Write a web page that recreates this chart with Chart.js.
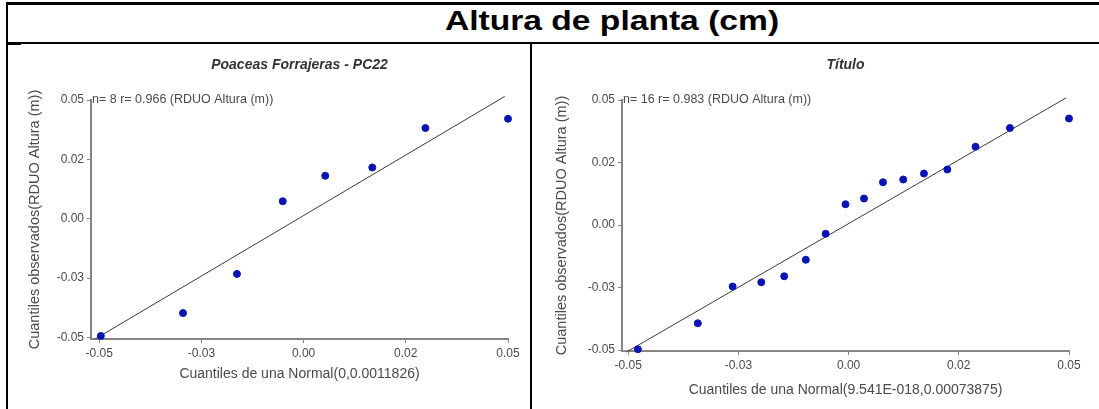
<!DOCTYPE html>
<html><head><meta charset="utf-8">
<script src="https://cdn.jsdelivr.net/npm/chart.js@4.4.0/dist/chart.umd.min.js"></script>
<style>
html,body{margin:0;padding:0;background:#fff;width:1099px;height:409px;overflow:hidden;position:relative}
.b{position:absolute;background:#000}
#title{position:absolute;left:8px;width:1208px;top:5px;height:38px;line-height:38px;text-align:center;font:bold 28px Arial,"Liberation Sans",sans-serif;color:#000;white-space:nowrap;transform:scaleX(1.2);transform-origin:50% 50%}
#c1{position:absolute;left:8px;top:44px}
#c2{position:absolute;left:532px;top:44px}
</style></head>
<body>
<div class="b" style="left:6px;top:2px;width:1093px;height:3px"></div>
<div class="b" style="left:6px;top:2px;width:2px;height:407px"></div>
<div class="b" style="left:6px;top:42px;width:1093px;height:2px"></div>
<div class="b" style="left:8px;top:42px;width:13px;height:3px"></div>
<div class="b" style="left:530px;top:43px;width:2px;height:366px"></div>
<div id="title">Altura de planta (cm)</div>
<canvas id="c1" width="522" height="365"></canvas>
<canvas id="c2" width="567" height="365"></canvas>
<script>
// ---- data ----
const tickValues = [-0.05, -0.025, 0, 0.025, 0.05];
const tickLabels = ['-0.05', '-0.03', '0.00', '0.02', '0.05'];

const leftTitle = 'Poaceas Forrajeras - PC22';
const leftAnnot = 'n= 8 r= 0.966 (RDUO Altura (m))';
const leftXTitle = 'Cuantiles de una Normal(0,0.0011826)';
const leftYTitle = 'Cuantiles observados(RDUO Altura (m))';
const leftX = [-0.0496, -0.0295, -0.0163, -0.0051, 0.0053, 0.0168, 0.0298, 0.0500];
const leftY = [-0.0493, -0.0397, -0.0232, 0.0074, 0.0181, 0.0216, 0.0382, 0.0421];
const leftLineX = [-0.0510, 0.0492];
const leftLineY = [-0.0506, 0.0515];

const rightTitle = 'Título';
const rightAnnot = 'n= 16 r= 0.983 (RDUO Altura (m))';
const rightXTitle = 'Cuantiles de una Normal(9.541E-018,0.00073875)';
const rightYTitle = 'Cuantiles observados(RDUO Altura (m))';
const rightX = [-0.0478, -0.0342, -0.0263, -0.0198, -0.0146, -0.0097, -0.0052, -0.0007, 0.0035, 0.0078, 0.0124, 0.0171, 0.0224, 0.0288, 0.0366, 0.0500];
const rightY = [-0.0497, -0.0393, -0.0246, -0.0229, -0.0205, -0.0139, -0.0035, 0.0083, 0.0106, 0.0171, 0.0182, 0.0206, 0.0222, 0.0313, 0.0388, 0.0426];
const rightLineX = [-0.0503, 0.0494];
const rightLineY = [-0.0507, 0.0509];

// ---- rendering ----
const FONT = 'Arial, "Liberation Sans", sans-serif';
const TXT = '#4a4a4a';
const AXIS = '#858585';

const annotPlugin = {
  id: 'annot',
  afterDraw(chart, args, opts) {
    const {ctx, chartArea, scales} = chart;
    ctx.save();
    ctx.font = '12.5px ' + FONT;
    ctx.fillStyle = TXT;
    ctx.textAlign = 'left';
    ctx.textBaseline = 'middle';
    ctx.fillText(opts.text, chartArea.left + opts.dx, scales.y.getPixelForValue(0.05));
    ctx.restore();
  }
};

function pts(xs, ys) { return xs.map((x, i) => ({x: x, y: ys[i]})); }

function makeChart(id, c) {
  return new Chart(document.getElementById(id), {
    type: 'scatter',
    data: {
      datasets: [
        {data: pts(c.lineX, c.lineY), showLine: true, borderColor: '#3a3a3a', borderWidth: 1, pointRadius: 0, clip: false, order: 2},
        {data: pts(c.x, c.y), backgroundColor: '#0a14b4', borderColor: '#0a14b4', pointRadius: 3.5, pointHoverRadius: 3.5, clip: false, order: 1}
      ]
    },
    plugins: [annotPlugin],
    options: {
      responsive: false,
      animation: false,
      events: [],
      layout: {padding: {left: 0, top: 0, right: c.padRight, bottom: 0}},
      plugins: {
        legend: {display: false},
        tooltip: {enabled: false},
        title: {display: true, text: c.title, fullSize: false, color: '#333',
          font: {family: FONT, size: 14, weight: 'bold', style: 'italic', lineHeight: 1.2},
          padding: {top: 12.6, bottom: 26.6}},
        annot: {text: c.annot, dx: 1}
      },
      scales: {
        x: {
          type: 'linear', min: c.xMin, max: 0.05,
          afterBuildTicks: s => { s.ticks = tickValues.map(v => ({value: v})); },
          afterFit: s => { s.height = c.xAxisH; },
          ticks: {callback: (v, i) => tickLabels[i], color: TXT, font: {family: FONT, size: 12}, padding: 3, maxRotation: 0, autoSkip: false},
          grid: {drawOnChartArea: false, drawTicks: true, tickLength: 4, color: AXIS, lineWidth: 1},
          border: {display: true, color: AXIS, width: 2},
          title: {display: true, text: c.xTitle, color: TXT, font: {family: FONT, size: 14, lineHeight: 1.2}, padding: {top: 0, bottom: c.xTitlePad}}
        },
        y: {
          type: 'linear', min: c.yMin, max: 0.05,
          afterBuildTicks: s => { s.ticks = tickValues.map(v => ({value: v})); },
          afterFit: s => { s.width = c.yAxisW; },
          ticks: {callback: (v, i) => tickLabels[i], color: TXT, font: {family: FONT, size: 12}, padding: 3, autoSkip: false},
          grid: {drawOnChartArea: false, drawTicks: true, tickLength: 4, color: AXIS, lineWidth: 1},
          border: {display: true, color: AXIS, width: 2},
          title: {display: true, text: c.yTitle, color: TXT, font: {family: FONT, size: 14.5, lineHeight: 1.2}, padding: {top: c.yTitlePad, bottom: 0}}
        }
      }
    }
  });
}

makeChart('c1', {
  title: leftTitle, annot: leftAnnot, xTitle: leftXTitle, yTitle: leftYTitle,
  x: leftX, y: leftY, lineX: leftLineX, lineY: leftLineY,
  xMin: -0.052, yMin: -0.0506, padRight: 22, xAxisH: 70, yAxisW: 83, xTitlePad: 26.6, yTitlePad: 18.3
});
makeChart('c2', {
  title: rightTitle, annot: rightAnnot, xTitle: rightXTitle, yTitle: rightYTitle,
  x: rightX, y: rightY, lineX: rightLineX, lineY: rightLineY,
  xMin: -0.0514, yMin: -0.0504, padRight: 30, xAxisH: 58, yAxisW: 90, xTitlePad: 10.6, yTitlePad: 21.3
});
</script>
</body></html>
